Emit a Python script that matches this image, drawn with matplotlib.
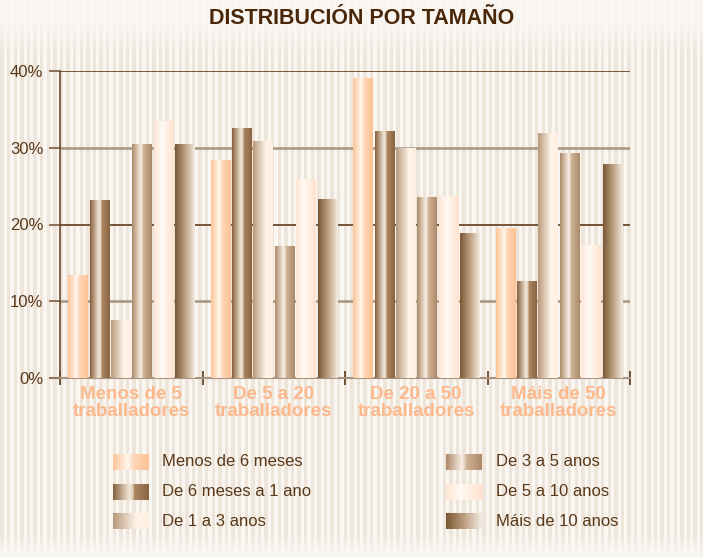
import numpy as np
import matplotlib
matplotlib.use("Agg")
import matplotlib.pyplot as plt

# ----------------------------
# Datos
# ----------------------------
categorias = ["Menos de 5\ntraballadores", "De 5 a 20\ntraballadores",
              "De 20 a 50\ntraballadores", "Máis de 50\ntraballadores"]
series = ["Menos de 6 meses", "De 6 meses a 1 ano", "De 1 a 3 anos",
          "De 3 a 5 anos", "De 5 a 10 anos", "Máis de 10 anos"]

menos_6_meses = [13.3, 28.4, 39.0, 19.5]
de_6m_a_1 = [23.1, 32.5, 32.1, 12.6]
de_1_a_3 = [7.5, 30.8, 29.9, 31.8]
de_3_a_5 = [30.4, 17.1, 23.5, 29.3]
de_5_a_10 = [33.4, 25.9, 23.6, 17.2]
mais_de_10 = [30.4, 23.3, 18.8, 27.8]
valores = [menos_6_meses, de_6m_a_1, de_1_a_3, de_3_a_5, de_5_a_10, mais_de_10]

yticks = [0, 10, 20, 30, 40]
ytick_labels = ["0%", "10%", "20%", "30%", "40%"]

# ----------------------------
# Estilos
# ----------------------------
BROWN = "#5a3818"
TITLE = "#4a2708"
PEACH = "#fdb98c"

# degradados (posicion, rgb) de cada serie
stops = [
    [(0, (252, 196, 152)), (0.42, (255, 246, 236)), (0.58, (254, 214, 182)), (1, (252, 194, 148))],
    [(0, (135, 96, 58)), (0.45, (242, 230, 216)), (0.55, (226, 210, 192)), (0.6, (170, 134, 98)), (1, (138, 100, 64))],
    [(0, (184, 154, 124)), (0.65, (255, 244, 234)), (1, (255, 238, 224))],
    [(0, (172, 138, 104)), (0.45, (250, 240, 230)), (0.58, (206, 178, 150)), (1, (172, 138, 104))],
    [(0, (255, 230, 212)), (0.4, (255, 250, 245)), (1, (255, 226, 206))],
    [(0, (122, 88, 52)), (0.5, (188, 158, 128)), (1, (244, 236, 226))],
]


def gradiente(st, n=64):
    pos = np.array([p for p, _ in st])
    cols = np.array([c for _, c in st], dtype=float) / 255.0
    x = np.linspace(0, 1, n)
    g = np.stack([np.interp(x, pos, cols[:, k]) for k in range(3)], axis=1)
    return g[np.newaxis, :, :]


plt.rcParams["font.family"] = ["Liberation Sans", "DejaVu Sans"]

W, H = 703, 557
fig = plt.figure(figsize=(W / 100, H / 100), dpi=100)

# fondo rayado
bg = fig.add_axes([0, 0, 1, 1], zorder=-10)
xx = np.arange(W)
raya = ((xx % 6.6) < 3.3).astype(float)
yy = np.arange(H)
fuerza = np.clip((yy - 25) / 35.0, 0, 1) * np.clip((552 - yy) / 20.0, 0, 1)
fuerza = 0.15 + 0.85 * fuerza
claro = np.array([250, 247, 243]) / 255.0
beige = np.array([237, 228, 218]) / 255.0
mezcla = raya[np.newaxis, :] * fuerza[:, np.newaxis]
img = claro[None, None, :] * (1 - mezcla[:, :, None]) + beige[None, None, :] * mezcla[:, :, None]
bg.imshow(img, aspect="auto", extent=[0, 1, 0, 1])
bg.axis("off")

# ejes principales
ax = fig.add_axes([60 / W, 1 - 378 / H, 570 / W, 307 / H])
ax.set_facecolor("none")

n_series = len(series)
paso = 0.15
ancho = 0.135
x = np.arange(len(categorias)) + 0.5

for k, vals in enumerate(valores):
    pos = x + (k - (n_series - 1) / 2) * paso
    barras = ax.bar(pos, vals, width=ancho, color="none", edgecolor="none", zorder=2)
    g = gradiente(stops[k])
    for b in barras:
        x0, y0 = b.get_x(), b.get_y()
        ax.imshow(g, extent=[x0, x0 + b.get_width(), y0, y0 + b.get_height()],
                  aspect="auto", interpolation="bilinear", zorder=3)

ax.set_xlim(0, 4)
ax.set_ylim(0, 40)

# rejilla
for v in yticks[1:]:
    c = "#6b4a2c" if v in (20, 40) else "#a89480"
    ax.axhline(v, color=c, lw=1.3 if v in (20, 40) else 1.8, zorder=1)

ax.set_yticks(yticks)
ax.set_yticklabels(ytick_labels)
ax.tick_params(axis="y", length=8, width=1.2, color="#7a5a3c", labelcolor=BROWN,
               labelsize=12, pad=4)
ax.set_xticks([0, 1, 2, 3, 4])
ax.set_xticklabels([])
ax.tick_params(axis="x", which="major", direction="inout", length=10, width=1.2, color=BROWN)
ax.set_xticks(x, minor=True)
ax.set_xticklabels(categorias, minor=True)
ax.tick_params(axis="x", which="minor", length=0, pad=6, labelsize=13.5,
               labelcolor=PEACH)
for t in ax.get_xticklabels(minor=True):
    t.set_fontweight("bold")
    t.set_linespacing(0.95)

for s in ["top", "right"]:
    ax.spines[s].set_visible(False)
ax.spines["left"].set_color("#6b4a2c")
ax.spines["left"].set_linewidth(1.2)
ax.spines["bottom"].set_color("#a89480")
ax.spines["bottom"].set_linewidth(1.5)

fig.text(362 / W, 1 - 18 / H, "DISTRIBUCIÓN POR TAMAÑO", ha="center", va="center",
         fontsize=15.5, fontweight="bold", color=TITLE)

# leyenda
lg = fig.add_axes([0, 0, 1, 1], zorder=5)
lg.set_xlim(0, W)
lg.set_ylim(H, 0)
lg.axis("off")
col_x = [(113, 162), (446, 496)]
fila_y = [462, 492, 521]
for k, nombre in enumerate(series):
    sx, tx = col_x[k // 3]
    cy = fila_y[k % 3]
    lg.imshow(gradiente(stops[k]), extent=[sx, sx + 36, cy + 8, cy - 8],
              aspect="auto", interpolation="bilinear")
    lg.text(tx, cy, nombre, va="center", ha="left", fontsize=12, color=BROWN)
lg.set_xlim(0, W)
lg.set_ylim(H, 0)

fig.savefig("out.png", dpi=100)
